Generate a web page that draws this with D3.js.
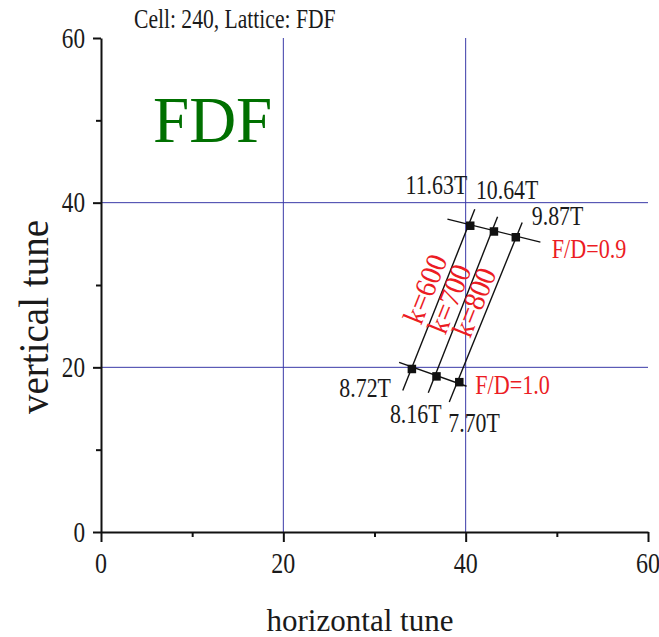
<!DOCTYPE html>
<html>
<head>
<meta charset="utf-8">
<script src="https://cdn.jsdelivr.net/npm/d3@7"></script>
<style>
  html, body { margin: 0; padding: 0; background: #fff; }
  svg { display: block; }
</style>
</head>
<body>
<svg id="chart" width="659" height="637"></svg>
<script>
// ---------- data ----------
const kValues = [600, 700, 800];
// working points at F/D = 0.9 (upper) and F/D = 1.0 (lower)
const qxFD09 = [40.5, 43.1, 45.5];
const qyFD09 = [37.2, 36.5, 35.8];
const qxFD10 = [34.1, 36.8, 39.3];
const qyFD10 = [19.8, 18.9, 18.2];
const fieldFD09 = ["11.63T", "10.64T", "9.87T"];
const fieldFD10 = ["8.72T", "8.16T", "7.70T"];
// constant-k lines (tune-space end points)
const kLineX0 = [33.1, 35.9, 38.2];
const kLineY0 = [17.2, 16.9, 15.8];
const kLineX1 = [41.0, 43.5, 46.2];
const kLineY1 = [39.2, 38.3, 37.6];
// constant F/D lines
const fdRatios = ["0.9", "1.0"];
const fdLineX0 = [38.0, 32.7];
const fdLineY0 = [38.0, 20.6];
const fdLineX1 = [48.2, 40.1];
const fdLineY1 = [35.2, 17.7];
// axes
const xTicks = [0, 20, 40, 60];
const yTicks = [0, 20, 40, 60];
const minorTicks = [10, 30, 50];
const gridX = [20, 40];
const gridY = [20, 40];

// ---------- layout ----------
const svg = d3.select("#chart");
const L = 101, R = 648, T = 38, B = 532;
const x = d3.scaleLinear().domain([0, 60]).range([L, R]);
const y = d3.scaleLinear().domain([0, 60]).range([B, T]);
const FONT = '"Liberation Serif", "Times New Roman", serif';
const RED = "#ec1c24";

function label(str, px, py, o = {}) {
  const sx = o.sx === undefined ? 0.8 : o.sx;
  return svg.append("text")
    .attr("transform", `translate(${px},${py}) rotate(${o.rotate || 0}) scale(${sx},1)`)
    .attr("text-anchor", o.anchor || "start")
    .attr("dy", o.dy || 0)
    .style("font-family", FONT)
    .style("font-size", (o.size || 28) + "px")
    .attr("fill", o.fill || "#1a1a1a")
    .text(str);
}

// grid lines
svg.append("g").selectAll("line").data(gridX).join("line")
  .attr("x1", d => x(d)).attr("x2", d => x(d))
  .attr("y1", y(60)).attr("y2", y(0))
  .attr("stroke", "#3a3aa8").attr("stroke-width", 1);
svg.append("g").selectAll("line").data(gridY).join("line")
  .attr("x1", x(0)).attr("x2", x(60))
  .attr("y1", d => y(d)).attr("y2", d => y(d))
  .attr("stroke", "#3a3aa8").attr("stroke-width", 1);

// axes
function styleAxis(g) {
  g.selectAll("path, line").attr("stroke", "#111").attr("stroke-width", 2);
  g.selectAll("text").remove();
}
svg.append("g").attr("transform", `translate(0,${B})`)
  .call(d3.axisBottom(x).tickValues(xTicks).tickSize(10).tickSizeOuter(0).tickFormat(""))
  .call(styleAxis);
svg.append("g").attr("transform", `translate(0,${B})`)
  .call(d3.axisBottom(x).tickValues(minorTicks).tickSize(5).tickSizeOuter(0).tickFormat(""))
  .call(styleAxis).select(".domain").remove();
svg.append("g").attr("transform", `translate(${L},0)`)
  .call(d3.axisLeft(y).tickValues(yTicks).tickSize(8).tickSizeOuter(0).tickFormat(""))
  .call(styleAxis);
svg.append("g").attr("transform", `translate(${L},0)`)
  .call(d3.axisLeft(y).tickValues(minorTicks).tickSize(5).tickSizeOuter(0).tickFormat(""))
  .call(styleAxis).select(".domain").remove();

// tick labels
xTicks.forEach(t => label(String(t), x(t), 573, { anchor: "middle", size: 30 }));
yTicks.forEach(t => label(String(t), 85, y(t) + 9.5, { anchor: "end", size: 29 }));

// axis titles
label("horizontal tune", 360, 631, { anchor: "middle", size: 32, sx: 0.97 });
label("vertical tune", 48, 317, { anchor: "middle", size: 42, sx: 0.93, rotate: -90 });

// title and lattice tag
label("Cell: 240, Lattice: FDF", 134, 28, { size: 27, sx: 0.8 });
label("FDF", 153, 142, { size: 65, sx: 1, fill: "#007000" });

// constant-k lines
svg.append("g").selectAll("line").data(kValues).join("line")
  .attr("x1", (d, i) => x(kLineX0[i])).attr("y1", (d, i) => y(kLineY0[i]))
  .attr("x2", (d, i) => x(kLineX1[i])).attr("y2", (d, i) => y(kLineY1[i]))
  .attr("stroke", "#111").attr("stroke-width", 1.4);
// constant F/D lines
svg.append("g").selectAll("line").data(fdRatios).join("line")
  .attr("x1", (d, i) => x(fdLineX0[i])).attr("y1", (d, i) => y(fdLineY0[i]))
  .attr("x2", (d, i) => x(fdLineX1[i])).attr("y2", (d, i) => y(fdLineY1[i]))
  .attr("stroke", "#111").attr("stroke-width", 1.4);

// markers
const pts = [];
kValues.forEach((k, i) => {
  pts.push({ qx: qxFD09[i], qy: qyFD09[i] });
  pts.push({ qx: qxFD10[i], qy: qyFD10[i] });
});
const S = 8.5;
svg.append("g").selectAll("rect").data(pts).join("rect")
  .attr("x", d => x(d.qx) - S / 2).attr("y", d => y(d.qy) - S / 2)
  .attr("width", S).attr("height", S).attr("fill", "#111");

// field labels
const off09 = [[-3, -32, "end"], [-18, -32, "start"], [16, -12, "start"]];
const off10 = [[-21, 28, "end"], [5, 47, "end"], [-11, 50, "start"]];
fieldFD09.forEach((s, i) => label(s, x(qxFD09[i]) + off09[i][0], y(qyFD09[i]) + off09[i][1], { anchor: off09[i][2], size: 28, sx: 0.78 }));
fieldFD10.forEach((s, i) => label(s, x(qxFD10[i]) + off10[i][0], y(qyFD10[i]) + off10[i][1], { anchor: off10[i][2], size: 28, sx: 0.78 }));

// F/D labels
label("F/D=" + fdRatios[0], x(qxFD09[2]) + 36, y(qyFD09[2]) + 21, { size: 27, sx: 0.82, fill: RED });
label("F/D=" + fdRatios[1], x(qxFD10[2]) + 16, y(qyFD10[2]) + 12, { size: 27, sx: 0.82, fill: RED });

// k labels, beside the lines, rotated along them
const kOff = [[-14, -11], [-14, -6], [-12, -10]];
kValues.forEach((k, i) => {
  const mx = x((kLineX0[i] + kLineX1[i]) / 2) + kOff[i][0];
  const my = y((kLineY0[i] + kLineY1[i]) / 2) + kOff[i][1];
  label("k=" + k, mx, my, { anchor: "middle", size: 30, sx: 0.93, rotate: -68, fill: RED, dy: "0.35em" });
});
</script>
</body>
</html>
